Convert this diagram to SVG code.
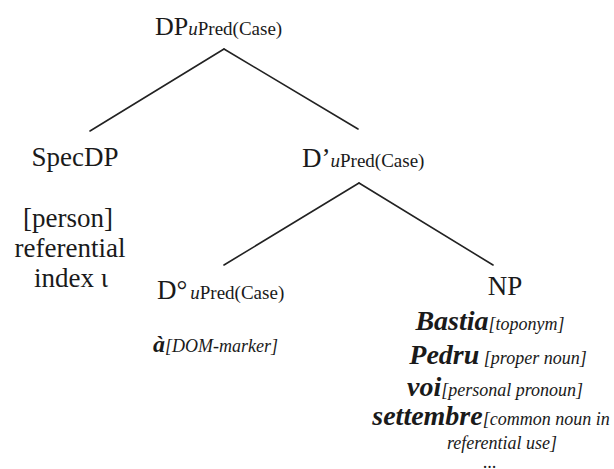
<svg xmlns="http://www.w3.org/2000/svg" width="614" height="469" viewBox="0 0 614 469" font-family="'Liberation Serif', 'DejaVu Serif', serif">
  <style>
    text, tspan { font-family: 'Liberation Serif', 'DejaVu Serif', serif; fill: #1a1a1a; }
    .lab { font-size: 27px; }
    .sub { font-size: 19px; }
    .it { font-style: italic; }
    .ex { font-size: 28px; font-style: italic; font-weight: bold; }
    .note { font-size: 18px; font-style: italic; }
    .edge { stroke: #222; stroke-width: 1.6; fill: none; stroke-linecap: round; }
  </style>
  <rect width="614" height="469" fill="#ffffff"/>

  <!-- tree branches -->
  <g id="connectors">
    <line class="edge" x1="224" y1="49" x2="90" y2="131"/>
    <line class="edge" x1="224" y1="49" x2="358" y2="129"/>
    <line class="edge" x1="359" y1="183" x2="224" y2="265"/>
    <line class="edge" x1="359" y1="183" x2="493" y2="265"/>
  </g>

  <g id="dp">
    <text x="155" y="35" class="lab" style="font-size:26px">DP<tspan class="sub it">u</tspan><tspan class="sub">Pred(Case)</tspan></text>
  </g>

  <g id="specdp">
    <text x="75" y="166" class="lab" text-anchor="middle">SpecDP</text>
    <text x="68" y="227" class="lab" text-anchor="middle">[person]</text>
    <text x="70" y="257" class="lab" text-anchor="middle">referential</text>
    <text x="71" y="287" class="lab" text-anchor="middle">index ι</text>
  </g>

  <g id="dbar">
    <text x="302" y="167" class="lab">D’<tspan class="sub it">u</tspan><tspan class="sub">Pred(Case)</tspan></text>
  </g>

  <g id="dhead">
    <text x="157" y="299" class="lab">D°<tspan class="sub it" dx="3">u</tspan><tspan class="sub">Pred(Case)</tspan></text>
    <text x="153" y="352"><tspan class="ex" style="font-size:24px">à</tspan><tspan class="note">[DOM-marker]</tspan></text>
  </g>

  <g id="np">
    <text x="505" y="295" class="lab" text-anchor="middle">NP</text>
    <text x="490" y="330" text-anchor="middle"><tspan class="ex">Bastia</tspan><tspan class="note">[toponym]</tspan></text>
    <text x="498" y="364" text-anchor="middle"><tspan class="ex">Pedru</tspan><tspan class="note">  [proper noun]</tspan></text>
    <text x="495" y="396" text-anchor="middle"><tspan class="ex">voi</tspan><tspan class="note">[personal pronoun]</tspan></text>
    <text x="491" y="425" text-anchor="middle"><tspan class="ex">settembre</tspan><tspan class="note">[common noun in</tspan></text>
    <text x="502" y="449" class="note" text-anchor="middle">referential use]</text>
    <text x="490" y="468" class="note" text-anchor="middle">...</text>
  </g>
</svg>
